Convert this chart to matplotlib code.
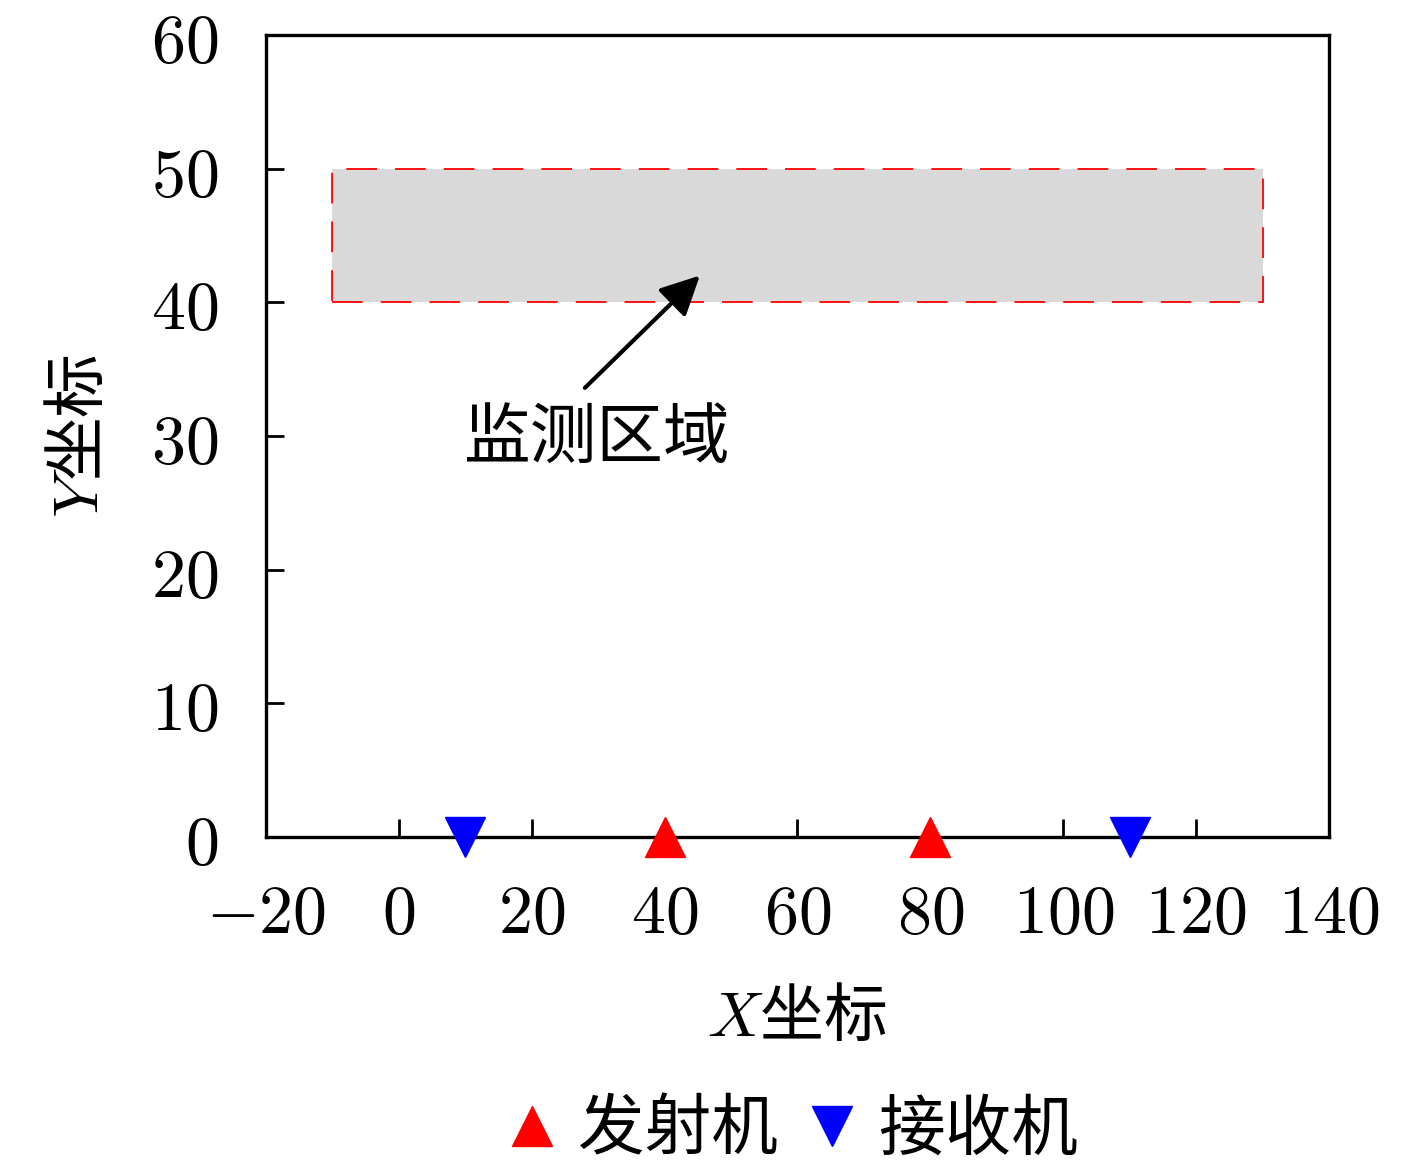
import numpy as np
import matplotlib
matplotlib.use('Agg')
import matplotlib.pyplot as plt
from matplotlib.patches import Rectangle
from matplotlib.ticker import FuncFormatter

plt.rcParams['font.family'] = ['Noto Sans CJK SC', 'DejaVu Sans']
plt.rcParams['mathtext.fontset'] = 'cm'
plt.rcParams['axes.unicode_minus'] = True

# data
tx_x = [40, 80]
tx_y = [0, 0]
rx_x = [10, 110]
rx_y = [0, 0]
region = (-10, 40, 140, 10)  # x0, y0, width, height
arrow_tail = (28, 33.6)
arrow_head = (45.3, 42.0)
xticks = [-20, 0, 20, 40, 60, 80, 100, 120, 140]
yticks = [0, 10, 20, 30, 40, 50, 60]

fig = plt.figure(figsize=(14.17, 11.62), dpi=100)
ax = fig.add_axes([0.1877, 0.2797, 0.9379 - 0.1877, 0.9699 - 0.2797])

rect = Rectangle(region[:2], region[2], region[3], facecolor='#d9d9d9',
                 edgecolor='red', lw=1.3, linestyle=(0, (17, 10)), zorder=1)
ax.add_patch(rect)

ax.plot(tx_x, tx_y, '^', color='red', ms=29, clip_on=False, zorder=5, label='发射机')
ax.plot(rx_x, rx_y, 'v', color='blue', ms=29, clip_on=False, zorder=5, label='接收机')

ax.annotate('', xy=arrow_head, xytext=arrow_tail,
            arrowprops=dict(arrowstyle='-|>', mutation_scale=60, lw=3, color='k',
                            shrinkA=0, shrinkB=0))
ax.text(29.8, 29.8, '监测区域', fontsize=48, ha='center', va='center')

ax.set_xlim(-20, 140)
ax.set_ylim(0, 60)
ax.set_xticks(xticks)
ax.set_yticks(yticks)
fmt = FuncFormatter(lambda v, p: r'$%d$' % v)
ax.xaxis.set_major_formatter(fmt)
ax.yaxis.set_major_formatter(fmt)
ax.tick_params(direction='in', length=13, width=2, labelsize=49)
ax.tick_params(axis='x', pad=30)
ax.tick_params(axis='y', pad=34)
for s in ax.spines.values():
    s.set_linewidth(2.4)

ax.set_xlabel(r'$X$坐标', fontsize=46, labelpad=26)
ax.set_ylabel(r'$Y$坐标', fontsize=46, labelpad=28)

fig.legend(loc='center', bbox_to_anchor=(0.554, 0.027), ncol=2, frameon=False,
           fontsize=48, handletextpad=0.1, columnspacing=0.2, handlelength=1.2)

fig.savefig('out.png', dpi=100)
